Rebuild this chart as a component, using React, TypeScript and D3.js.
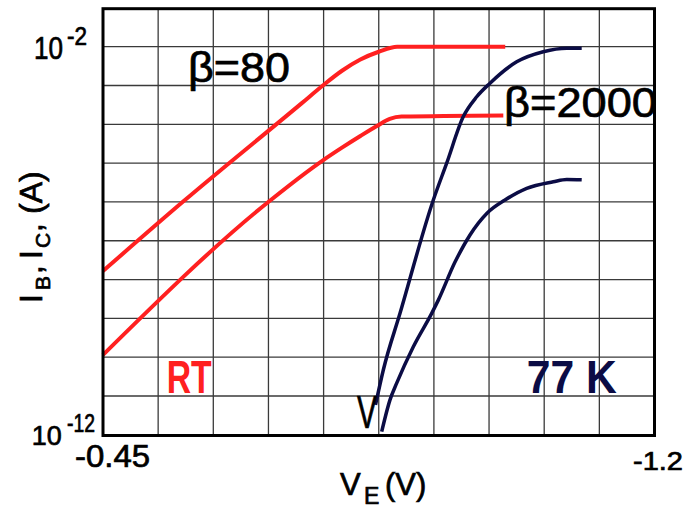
import React from "react";
import * as d3 from "d3";

// ---------- data ----------
const xTickValues = [-0.45, -1.2];
const xTickLabels = ["-0.45", "-1.2"];
const yTickValues = [1e-2, 1e-12];
const yTickExponents = ["-2", "-12"];
const xGridValues = [-0.525, -0.6, -0.675, -0.75, -0.825, -0.9, -0.975, -1.05, -1.125];
const yGridValues = [1e-11, 1e-10, 1e-9, 1e-8, 1e-7, 1e-6, 1e-5, 1e-4, 1e-3, 1e-2];

// Room temperature, collector current (log10 A)
const rtIcVE = [-0.45, -0.559, -0.72, -0.749, -0.775, -0.8, -0.825, -0.85, -0.997];
const rtIcLog = [-7.78, -5.99, -3.46, -3.0, -2.62, -2.33, -2.13, -2.0, -2.0];
// Room temperature, base current
const rtIbVE = [-0.45, -0.6748, -0.7496, -0.775, -0.8, -0.8236, -0.84, -0.856, -0.9944];
const rtIbLog = [-9.94, -6.0, -4.92, -4.6, -4.3, -4.03, -3.86, -3.8, -3.77];
// 77 K, collector current
const lnIcVE = [-0.8206, -0.8312, -0.8539, -0.8992, -0.9174, -0.94, -0.9582, -0.9763, -1.0126, -1.0488, -1.0806, -1.101];
const lnIcLog = [-11.23, -10.33, -8.87, -5.95, -5.0, -3.8, -3.29, -2.94, -2.39, -2.13, -2.04, -2.04];
// 77 K, base current
const lnIbVE = [-0.829, -0.8403, -0.8494, -0.872, -0.897, -0.906, -0.9287, -0.9491, -0.9722, -0.9967, -1.0262, -1.0624, -1.0806, -1.101];
const lnIbLog = [-11.92, -11.1, -10.67, -9.73, -8.87, -8.53, -7.55, -6.85, -6.29, -5.95, -5.65, -5.48, -5.42, -5.43];

const RED = "#ff2020";
const NAVY = "#0b0c45";
const FONT = "'Liberation Sans', Arial, sans-serif";

export default function App() {
  const W = 687;
  const H = 508;
  const left = 103, right = 654.5, top = 8.7, bottom = 435.5;
  const x = d3.scaleLinear().domain([-0.45, -1.2]).range([left, right]);
  const y = d3.scaleLog().domain([1e-12, 1e-1]).range([434.8, 7.9]);

  const line = d3
    .line<[number, number]>()
    .x((d) => x(d[0]))
    .y((d) => y(Math.pow(10, d[1])))
    .curve(d3.curveMonotoneX);

  const series = [
    { ve: rtIcVE, lg: rtIcLog, color: RED, w: 4 },
    { ve: rtIbVE, lg: rtIbLog, color: RED, w: 4 },
    { ve: lnIcVE, lg: lnIcLog, color: NAVY, w: 3.5 },
    { ve: lnIbVE, lg: lnIbLog, color: NAVY, w: 3.5 },
  ];

  const heavy = { stroke: "#000", strokeWidth: 0.7 };

  return (
    <svg
      width={W}
      height={H}
      viewBox={`0 0 ${W} ${H}`}
      style={{ position: "absolute", left: 0, top: 0, background: "#fff" }}
      fontFamily={FONT}
    >
      <rect x={0} y={0} width={W} height={H} fill="#fff" />
      {/* grid */}
      {xGridValues.map((v, i) => (
        <line key={"gx" + i} x1={x(v)} x2={x(v)} y1={top} y2={bottom} stroke="#3a3a3a" strokeWidth={1.3} />
      ))}
      {yGridValues.map((v, i) => (
        <line key={"gy" + i} x1={left} x2={right} y1={y(v)} y2={y(v)} stroke="#3a3a3a" strokeWidth={1.3} />
      ))}

      {/* curves */}
      {series.map((s, i) => (
        <path
          key={"s" + i}
          d={line(s.ve.map((v, j) => [v, s.lg[j]] as [number, number])) || ""}
          fill="none"
          stroke={s.color}
          strokeWidth={s.w}
        />
      ))}

      {/* annotations */}
      <text x={188} y={82} fontSize={42} textLength={102} lengthAdjust="spacingAndGlyphs" fill="#000" {...heavy}>β=80</text>
      <text x={504} y={117} fontSize={43} textLength={153} lengthAdjust="spacingAndGlyphs" fill="#000" {...heavy}>β=2000</text>
      <text x={166.7} y={393.3} fontSize={45.6} fontWeight="bold" textLength={45} lengthAdjust="spacingAndGlyphs" fill={RED}>RT</text>
      <text x={526.7} y={393.3} fontSize={45.6} fontWeight="bold" textLength={90} lengthAdjust="spacingAndGlyphs" fill={NAVY}>77 K</text>
      <text x={357} y={428} fontSize={46} textLength={20} lengthAdjust="spacingAndGlyphs" fill="#000" {...heavy}>V</text>

      {/* frame */}
      <rect x={left} y={top} width={right - left} height={bottom - top} fill="none" stroke="#000" strokeWidth={3} />

      {/* y tick labels */}
      <g {...heavy}>
        <text x={34} y={y(yTickValues[0]) + 12.3} fontSize={30.7} textLength={29} lengthAdjust="spacingAndGlyphs">10</text>
        <text x={67} y={y(yTickValues[0]) - 1.7} fontSize={25} textLength={20} lengthAdjust="spacingAndGlyphs">{yTickExponents[0]}</text>
        <text x={31.7} y={y(yTickValues[1]) + 10.2} fontSize={28} textLength={30} lengthAdjust="spacingAndGlyphs">10</text>
        <text x={67} y={y(yTickValues[1]) - 3.1} fontSize={25} textLength={28} lengthAdjust="spacingAndGlyphs">{yTickExponents[1]}</text>

        {/* x tick labels */}
        <text x={x(xTickValues[0]) - 28} y={467.3} fontSize={30.7} textLength={75} lengthAdjust="spacingAndGlyphs">{xTickLabels[0]}</text>
        <text x={x(xTickValues[1]) - 21.5} y={470} fontSize={26} textLength={50} lengthAdjust="spacingAndGlyphs">{xTickLabels[1]}</text>

        {/* x title */}
        <text y={495} fontSize={31}>
          <tspan x={340}>V</tspan>
          <tspan x={364} y={504} fontSize={23}>E</tspan>
          <tspan x={385} y={495}>(V)</tspan>
        </text>

        {/* y title */}
        <g transform="translate(42,302) rotate(-90)">
          <text y={0} fontSize={32}>
            <tspan x={-1} y={0}>I</tspan>
            <tspan x={12} y={8} fontSize={21}>B</tspan>
            <tspan x={28} y={0}>,</tspan>
            <tspan x={43} y={0}>I</tspan>
            <tspan x={54} y={8} fontSize={21}>C</tspan>
            <tspan x={70} y={0}>,</tspan>
            <tspan x={88} y={0}>(A)</tspan>
          </text>
        </g>
      </g>
    </svg>
  );
}
